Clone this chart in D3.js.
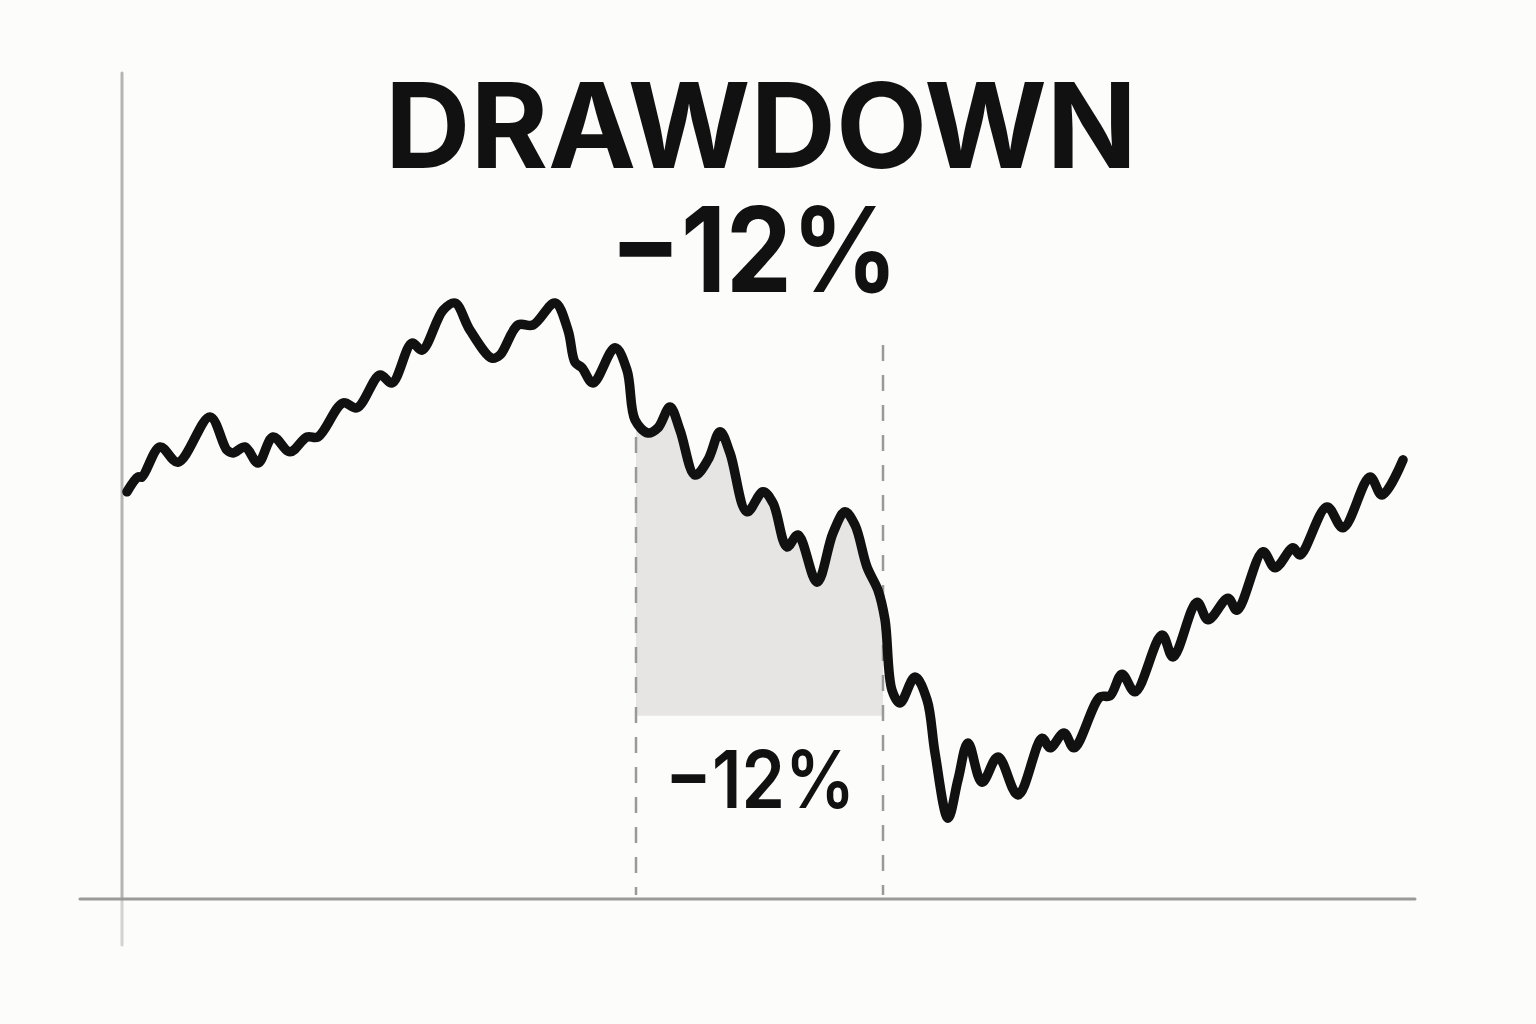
<!DOCTYPE html>
<html>
<head>
<meta charset="utf-8">
<script src="https://cdn.jsdelivr.net/npm/d3@7"></script>
<style>
  html, body { margin: 0; padding: 0; background: #fcfcfb; }
  svg { display: block; }
</style>
</head>
<body>
<svg id="chart" width="1536" height="1024"></svg>
<script>
// ---- data ----
const days = [0, 2.75, 3.75, 8.25, 12.75, 20.75, 25, 26.5, 29.5, 32.75, 36.5, 40.75, 45, 47.75,
  54, 57.5, 63.25, 66.25, 71.25, 73.75, 79, 82, 85.75, 91.25, 93.25, 97.75, 101.5, 107, 110.25,
  112, 113.75, 116.5, 122, 125, 127, 130.25, 132.75, 135.75, 138.25, 142, 145.25, 148.25, 150.75,
  155, 159, 161.5, 165, 167.75, 172.5, 176.5, 179.5, 182, 185, 187.75, 189.5, 191.25, 193.25,
  197, 200, 202, 205.25, 207.75, 210.25, 213.75, 217.75, 222.75, 228.75, 230.75, 234.25, 236.75,
  243.25, 245.75, 248.75, 252, 258.75, 261.5, 267.5, 270.25, 275.25, 277.5, 284, 287, 291.5,
  293.25, 300, 304, 310.75, 313.75, 319];
const values = [50.9, 52.75, 52.75, 56.5, 54.6, 60.25, 56.1, 55.75, 56.5, 54.5, 57.75, 55.9, 57.75, 57.75,
  62, 61.4, 65.5, 64.5, 69.5, 68.6, 73.6, 74.5, 71.1, 67.6, 68, 71.75, 71.75, 74.5, 71.1,
  67.1, 66.4, 64.5, 68.9, 66.1, 59.9, 58.25, 58.9, 61.5, 58.6, 53, 54.9, 58.4, 55.75,
  48.4, 50.9, 49.5, 44, 45.5, 39.6, 45.75, 48.4, 46.75, 41.5, 38.6, 34.9, 26.1, 24.5,
  27.75, 24.9, 18.25, 10.1, 14.9, 19.5, 14.6, 17.75, 13, 20.1, 18.9, 20.75, 18.9,
  25.25, 25.4, 28.1, 25.9, 33, 30.25, 37.1, 34.9, 37.6, 36.1, 43.4, 41.4, 43.9,
  43, 49, 46.4, 52.75, 50.5, 54.9];
const drawdownStart = 127.25;   // day
const drawdownEnd = 189;        // day
const drawdownFloor = 22.9;     // value
const leftMarkerTop = 57.75;
const rightMarkerTop = 69.25;
const titleText = "DRAWDOWN";
const drawdownLabel = "\u221212%";

// ---- scales ----
const svg = d3.select("#chart");
const x = d3.scaleLinear().domain([0, 319]).range([127, 1403]);
const y = d3.scaleLinear().domain([0, 103]).range([899, 75]);
const pts = days.map((d, i) => [d, values[i]]);

// background
svg.append("rect").attr("width", 1536).attr("height", 1024).attr("fill", "#fcfcfb");

// axes
svg.append("line")
  .attr("x1", x(-1.25)).attr("x2", x(-1.25))
  .attr("y1", y(0)).attr("y2", y(-5.75))
  .attr("stroke", "#d2d2d2").attr("stroke-width", 3).attr("stroke-linecap", "round");
svg.append("line")
  .attr("x1", x(-1.25)).attr("x2", x(-1.25))
  .attr("y1", y(103.25)).attr("y2", y(0))
  .attr("stroke", "#b4b4b4").attr("stroke-width", 3).attr("stroke-linecap", "round");
svg.append("line")
  .attr("x1", x(-11.75)).attr("x2", x(322))
  .attr("y1", y(0)).attr("y2", y(0))
  .attr("stroke", "#9a9a9a").attr("stroke-width", 3).attr("stroke-linecap", "round");

// shaded drawdown area
const curve = d3.curveCatmullRom.alpha(0.5);
svg.append("clipPath").attr("id", "ddclip")
  .append("rect")
  .attr("x", x(drawdownStart)).attr("y", 0)
  .attr("width", x(drawdownEnd) - x(drawdownStart)).attr("height", 1024);
svg.append("path")
  .datum(pts)
  .attr("clip-path", "url(#ddclip)")
  .attr("fill", "#e6e5e3")
  .attr("d", d3.area().x(d => x(d[0])).y0(y(drawdownFloor)).y1(d => y(d[1])).curve(curve));

// dashed markers
[[drawdownStart, leftMarkerTop], [drawdownEnd, rightMarkerTop]].forEach(([d, top]) => {
  svg.append("line")
    .attr("x1", x(d)).attr("x2", x(d))
    .attr("y1", y(top)).attr("y2", y(0.5))
    .attr("stroke", "#999").attr("stroke-width", 2.5)
    .attr("stroke-dasharray", "16,14");
});

// price line
svg.append("path")
  .datum(pts)
  .attr("fill", "none")
  .attr("stroke", "#111")
  .attr("stroke-width", 9.5)
  .attr("stroke-linejoin", "round")
  .attr("stroke-linecap", "round")
  .attr("d", d3.line().x(d => x(d[0])).y(d => y(d[1])).curve(curve));

// texts
const font = "Inter, 'Open Sans', sans-serif";
svg.append("text")
  .attr("x", 385).attr("y", 168)
  .attr("font-family", font).attr("font-weight", 700).attr("font-size", 118)
  .attr("fill", "#111")
  .attr("textLength", 752).attr("lengthAdjust", "spacingAndGlyphs")
  .text(titleText);
svg.append("text")
  .attr("x", 610).attr("y", 292)
  .attr("font-family", font).attr("font-weight", 700).attr("font-size", 118)
  .attr("fill", "#111")
  .attr("textLength", 288).attr("lengthAdjust", "spacingAndGlyphs")
  .text(drawdownLabel);
svg.append("text")
  .attr("x", 665).attr("y", 808)
  .attr("font-family", font).attr("font-weight", 600).attr("font-size", 80)
  .attr("fill", "#111")
  .attr("textLength", 190).attr("lengthAdjust", "spacingAndGlyphs")
  .text(drawdownLabel);
</script>
</body>
</html>
